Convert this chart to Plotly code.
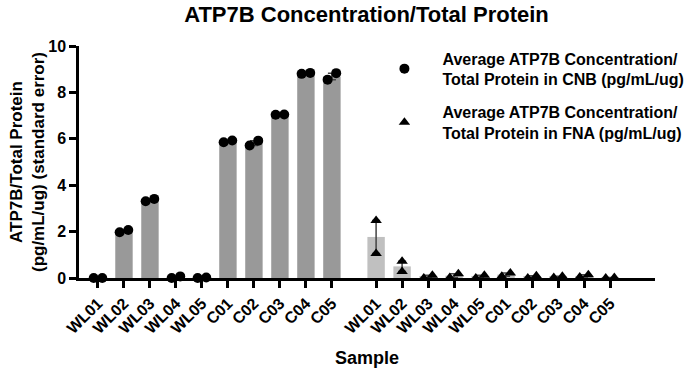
import numpy as np
import plotly.graph_objects as go

samples = ["WL01", "WL02", "WL03", "WL04", "WL05", "C01", "C02", "C03", "C04", "C05"]

# two replicate measurements per sample (pg/mL/ug)
cnb_rep1 = [0.00, 1.97, 3.31, 0.00, 0.00, 5.85, 5.71, 7.04, 8.80, 8.55]
cnb_rep2 = [0.00, 2.07, 3.41, 0.07, 0.02, 5.93, 5.92, 7.05, 8.84, 8.83]
fna_rep1 = [2.48, 0.72, 0.00, 0.02, 0.00, 0.08, 0.00, 0.02, 0.04, 0.00]
fna_rep2 = [1.06, 0.28, 0.12, 0.18, 0.12, 0.22, 0.10, 0.08, 0.14, 0.02]

GROUP_GAP = 10.7
JIT = 0.165
FONT = "Liberation Sans, Arial, sans-serif"

n = len(samples)
x1 = np.arange(n, dtype=float)
x2 = np.arange(n, dtype=float) + GROUP_GAP

def stats(a, b):
    a = np.array(a); b = np.array(b)
    mean = (a + b) / 2
    sem = np.abs(a - b) / 2
    return mean, sem

cnb_mean, cnb_sem = stats(cnb_rep1, cnb_rep2)
fna_mean, fna_sem = stats(fna_rep1, fna_rep2)

def jitter(xs, r1, r2):
    xa, xb = [], []
    for x, a, b in zip(xs, r1, r2):
        if abs(a - b) > 0.4:
            xa.append(x); xb.append(x)
        else:
            xa.append(x - JIT); xb.append(x + JIT)
    return xa, xb

fig = go.Figure()
eb = dict(type="data", visible=True, color="#444444", thickness=1.5, width=4)

fig.add_trace(go.Bar(x=x1, y=cnb_mean, width=0.67, marker_color="#999999",
                     marker_line_width=0, error_y=dict(array=cnb_sem, **eb), showlegend=False))
fig.add_trace(go.Bar(x=x2, y=fna_mean, width=0.67, marker_color="#c0c0c0",
                     marker_line_width=0, error_y=dict(array=fna_sem, **eb), showlegend=False))

xa, xb = jitter(x1, cnb_rep1, cnb_rep2)
fig.add_trace(go.Scatter(x=xa + xb, y=list(cnb_rep1) + list(cnb_rep2), mode="markers",
                         marker=dict(symbol="circle", size=10, color="black"),
                         name="Average ATP7B Concentration/<br>Total Protein in CNB (pg/mL/ug)",
                         legendgroup="a", cliponaxis=False))
xa, xb = jitter(x2, fna_rep1, fna_rep2)
fig.add_trace(go.Scatter(x=xa + xb, y=list(fna_rep1) + list(fna_rep2), mode="markers",
                         marker=dict(symbol="triangle-up", size=10, color="black"),
                         name="Average ATP7B Concentration/<br>Total Protein in FNA (pg/mL/ug)",
                         legendgroup="b", cliponaxis=False))

fig.update_layout(
    width=685, height=369,
    margin=dict(l=79, r=30, t=46, b=91, autoexpand=False),
    plot_bgcolor="white", paper_bgcolor="white",
    barmode="overlay",
    font=dict(family=FONT, color="black", size=16, weight="bold"),
    title=dict(text="ATP7B Concentration/Total Protein", x=0.535, xanchor="center",
               yref="container", y=0.962, yanchor="middle", font=dict(size=22, weight="bold")),
    legend=dict(x=0.499, xanchor="left", y=1.02, yanchor="top", tracegroupgap=9,
                itemwidth=66, font=dict(size=16, weight="bold"), bgcolor="rgba(0,0,0,0)"),
    xaxis=dict(range=[-0.73, 21.43], tickvals=list(x1) + list(x2), ticktext=samples + samples,
               tickangle=-45, showline=True, linecolor="black", linewidth=2.5,
               ticks="outside", ticklen=7, tickwidth=2.5, tickcolor="black",
               showgrid=False, zeroline=False, automargin=False,
               tickfont=dict(size=16, weight="bold"),
               title=dict(text="Sample", font=dict(size=18, weight="bold"), standoff=16)),
    yaxis=dict(range=[0, 10], tickvals=[0, 2, 4, 6, 8, 10], showline=True, linecolor="black",
               linewidth=2.5, ticks="outside", ticklen=7, tickwidth=2.5, tickcolor="black",
               showgrid=False, zeroline=False, automargin=False,
               tickfont=dict(size=16, weight="bold"),
               title=dict(text="ATP7B/Total Protein<br>(pg/mL/ug) (standard error)",
                          font=dict(size=17, weight="bold"), standoff=0)),
)

fig.write_html("out.html", config={"displayModeBar": False},
               post_script="document.body.style.margin='0';")
